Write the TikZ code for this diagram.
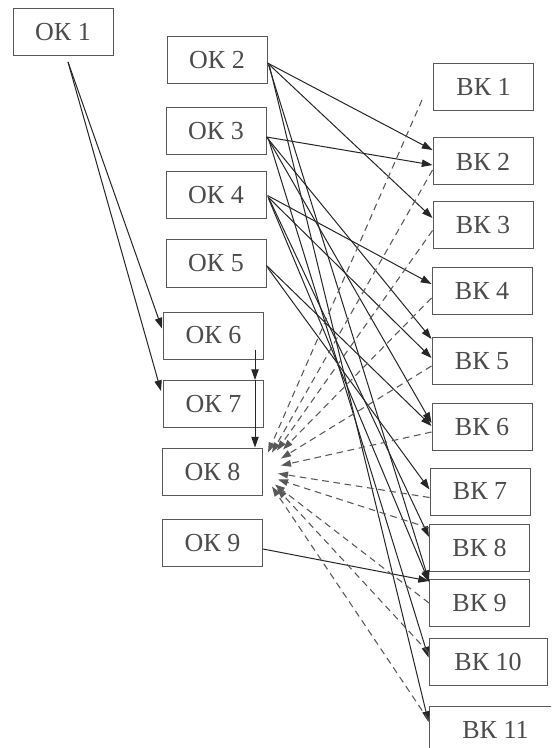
\documentclass[tikz,border=0pt]{standalone}
\usepackage{fontspec}
\setmainfont{Liberation Serif}
\usetikzlibrary{arrows.meta,calc}
\begin{document}
\begin{tikzpicture}[x=0.75pt,y=-0.75pt,
  box/.style={draw=black!65, line width=0.75pt, minimum width=75pt, minimum height=35.25pt,
    inner sep=0pt, text=black!70, font=\fontsize{19.5}{19.5}\selectfont},
  arr/.style={draw=black!85, line width=0.75pt, -{Triangle[length=8pt,width=5.5pt]}},
  darr/.style={draw=black!65, line width=0.8pt, dash pattern=on 5pt off 3.5pt,
    -{Triangle[length=7.5pt,width=5pt]}}]
\useasboundingbox (0,0) rectangle (551,748);
\fill[white] (0,0) rectangle (551,748);
\clip (0,0) rectangle (551,748);
% left column
\node[box] (OK1) at (63,32) {ОК 1};
\node[box] (OK2) at (217,60) {ОК 2};
\node[box] (OK3) at (216,131) {ОК 3};
\node[box] (OK4) at (216,195.5) {ОК 4};
\node[box] (OK5) at (216,263.5) {ОК 5};
\node[box] (OK6) at (213.5,335.5) {ОК 6};
\node[box] (OK7) at (213.5,404) {ОК 7};
\node[box] (OK8) at (212.5,471.5) {ОК 8};
\node[box] (OK9) at (212.5,543) {ОК 9};
% right column
\node[box] (BK1) at (483.5,87) {ВК 1};
\node[box] (BK2) at (483,161.5) {ВК 2};
\node[box] (BK3) at (483,225.5) {ВК 3};
\node[box] (BK4) at (482,290.5) {ВК 4};
\node[box] (BK5) at (482,361) {ВК 5};
\node[box] (BK6) at (482,427) {ВК 6};
\node[box] (BK7) at (480,491.5) {ВК 7};
\node[box] (BK8) at (479.5,548) {ВК 8};
\node[box] (BK9) at (479.5,603) {ВК 9};
\node[box, minimum width=88.5pt] (BK10) at (488,661.5) {ВК 10};
\node[box, minimum width=99.75pt] (BK11) at (495.5,730) {ВК 11};
% helper coordinates
\coordinate (s1) at ($(OK1.south)+(5,6)$);
\coordinate (s6) at ($(OK6.east)+(-9,14)$);
% OK1, OK6
\draw[arr] (s1) -- ($(OK6.west)+(-1,-7)$);
\draw[arr] (s1) -- ($(OK7.west)+(-2,-13)$);
\draw[arr] (s6) -- (s6 |- OK7.north);
\draw[arr] (s6 |- OK7.north) -- (s6 |- OK8.north);
% solid OK -> BK
\draw[arr] ($(OK2.east)+(0,3)$) -- ($(BK2.west)+(0,-11.5)$);
\draw[arr] ($(OK2.east)+(0,3)$) -- ($(BK3.west)+(0,-7.5)$);
\draw[arr] ($(OK2.east)+(1,5)$) -- ($(BK9.west)+(0,-22)$);
\draw[arr] ($(OK2.east)+(2,6)$) -- ($(BK11.west)+(0,-8)$);
\draw[arr] ($(OK3.east)+(0,6)$) -- ($(BK2.west)+(0,3.5)$);
\draw[arr] ($(OK3.east)+(0,6)$) -- ($(BK5.west)+(0,-22)$);
\draw[arr] ($(OK3.east)+(1,7)$) -- ($(BK6.west)+(0,-4)$);
\draw[arr] ($(OK3.east)+(2,8)$) -- ($(BK10.west)+(0,-4)$);
\draw[arr] ($(OK4.east)+(1,0)$) -- ($(BK4.west)+(0,-6.5)$);
\draw[arr] ($(OK4.east)+(1,1)$) -- ($(BK5.west)+(0,-3)$);
\draw[arr] ($(OK4.east)+(2,2)$) -- ($(BK8.west)+(0,-11)$);
\draw[arr] ($(OK4.east)+(2,3)$) -- ($(BK9.west)+(0,-21)$);
\draw[arr] ($(OK5.east)+(0,2)$) -- ($(BK6.west)+(0,-1)$);
\draw[arr] ($(OK5.east)+(1,4)$) -- ($(BK7.west)+(0,-2)$);
\draw[arr] ($(OK9.east)+(0,6)$) -- ($(BK9.west)+(0,-22)$);
% dashed BK -> OK8
\draw[darr] ($(BK1.south west)+(-11,-11)$) -- ($(OK8.east)+(5,-19)$);
\draw[darr] ($(BK2.west)+(0,8.5)$) -- ($(OK8.east)+(9,-19)$);
\draw[darr] ($(BK3.west)+(0,5)$) -- ($(OK8.east)+(14,-21)$);
\draw[darr] ($(BK4.west)+(0,7.5)$) -- ($(OK8.east)+(20,-22)$);
\draw[darr] ($(BK5.west)+(0,5)$) -- ($(OK8.east)+(18,-13)$);
\draw[darr] ($(BK6.west)+(0,5)$) -- ($(OK8.east)+(18,-6)$);
\draw[darr] ($(BK7.west)+(0,6)$) -- ($(OK8.east)+(15,2)$);
\draw[darr] ($(BK8.west)+(0,-20)$) -- ($(OK8.east)+(15,8)$);
\draw[darr] ($(BK9.west)+(0,0)$) -- ($(OK8.east)+(12,13)$);
\draw[darr] ($(BK10.west)+(0,-9)$) -- ($(OK8.east)+(14,17)$);
\draw[darr] ($(BK11.west)+(0,-10)$) -- ($(OK8.east)+(9,15)$);
\end{tikzpicture}
\end{document}
